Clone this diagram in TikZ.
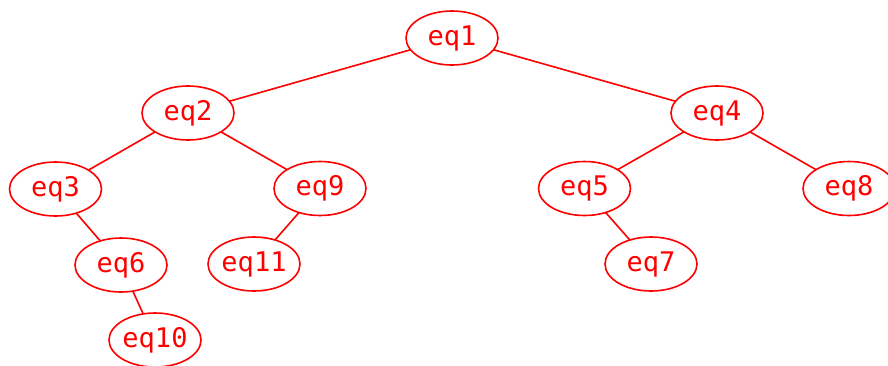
\documentclass[tikz,border=0pt]{standalone}
\usepackage{fontspec}
\setmonofont{DejaVu Sans Mono}
\usetikzlibrary{shapes.geometric}
\tikzset{
  eqnode/.style={ellipse, draw=red, line width=1.6pt, text=red,
    minimum width=92pt, minimum height=54pt, inner sep=0pt, outer sep=0pt,
    font=\ttfamily\fontsize{27}{27}\selectfont},
  eqedge/.style={draw=red, line width=1.6pt}
}
\begin{document}
\begin{tikzpicture}[x=1pt,y=-1pt]
\useasboundingbox (0,0) rectangle (888,365);
\node[eqnode] (eq1) at (452,38) {eq1};
\node[eqnode] (eq2) at (188,113) {eq2};
\node[eqnode] (eq4) at (717,113) {eq4};
\node[eqnode] (eq3) at (55.5,189) {eq3};
\node[eqnode] (eq9) at (320,188.5) {eq9};
\node[eqnode] (eq5) at (584.5,188.5) {eq5};
\node[eqnode] (eq8) at (849,188.5) {eq8};
\node[eqnode] (eq6) at (121,265) {eq6};
\node[eqnode] (eq11) at (254,264) {eq11};
\node[eqnode] (eq7) at (651,264) {eq7};
\node[eqnode] (eq10) at (155,340) {eq10};
\draw[eqedge] (eq1) -- (eq2);
\draw[eqedge] (eq1) -- (eq4);
\draw[eqedge] (eq2) -- (eq3);
\draw[eqedge] (eq2) -- (eq9);
\draw[eqedge] (eq3) -- (eq6);
\draw[eqedge] (eq6) -- (eq10);
\draw[eqedge] (eq9) -- (eq11);
\draw[eqedge] (eq4) -- (eq5);
\draw[eqedge] (eq4) -- (eq8);
\draw[eqedge] (eq5) -- (eq7);
\end{tikzpicture}
\end{document}
